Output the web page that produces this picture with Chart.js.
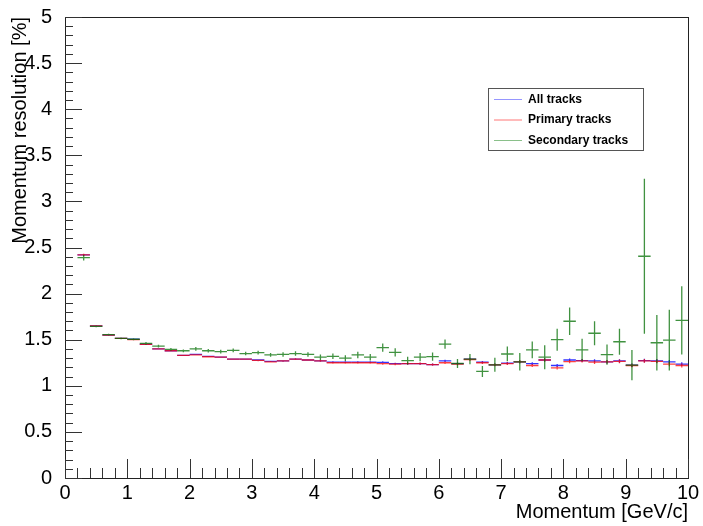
<!DOCTYPE html>
<html>
<head>
<meta charset="utf-8">
<script src="https://cdn.jsdelivr.net/npm/chart.js@4.4.1/dist/chart.umd.min.js"></script>
<style>
  html, body { margin: 0; padding: 0; background: #fff; }
  #wrap { width: 703px; height: 526px; }
</style>
</head>
<body>
<div id="wrap"><canvas id="myChart" width="703" height="526"></canvas></div>
<script>
// bin centres (GeV/c), bins are 0.2 wide
const momentum = [0.3, 0.5, 0.7, 0.9, 1.1, 1.3, 1.5, 1.7, 1.9, 2.1, 2.3, 2.5, 2.7, 2.9, 3.1, 3.3, 3.5, 3.7, 3.9,
    4.1, 4.3, 4.5, 4.7, 4.9, 5.1, 5.3, 5.5, 5.7, 5.9, 6.1, 6.3, 6.5, 6.7, 6.9, 7.1, 7.3, 7.5, 7.7, 7.9,
    8.1, 8.3, 8.5, 8.7, 8.9, 9.1, 9.3, 9.5, 9.7, 9.9];
const binHalfWidth = 0.1;

const allTracks = [2.42, 1.65, 1.55, 1.515, 1.505, 1.45, 1.40, 1.38, 1.33, 1.34, 1.32, 1.31, 1.29, 1.29, 1.28, 1.265, 1.27, 1.29, 1.28,
    1.27, 1.256, 1.256, 1.256, 1.256, 1.255, 1.24, 1.24, 1.24, 1.23, 1.27, 1.24, 1.29, 1.256, 1.228, 1.245, 1.26, 1.24, 1.28, 1.22,
    1.28, 1.274, 1.27, 1.26, 1.27, 1.224, 1.274, 1.27, 1.26, 1.235];
const allErr = [0.01, 0.005, 0.005, 0.005, 0.005, 0.005, 0.005, 0.005, 0.005, 0.006, 0.006, 0.006, 0.006, 0.007, 0.007, 0.007, 0.008, 0.008, 0.008,
    0.009, 0.009, 0.009, 0.01, 0.01, 0.01, 0.01, 0.011, 0.011, 0.011, 0.012, 0.012, 0.013, 0.013, 0.014, 0.014, 0.015, 0.015, 0.016, 0.016,
    0.017, 0.017, 0.018, 0.018, 0.019, 0.019, 0.02, 0.02, 0.021, 0.021];

const primaryTracks = [2.42, 1.65, 1.55, 1.515, 1.50, 1.45, 1.40, 1.38, 1.33, 1.335, 1.315, 1.31, 1.29, 1.29, 1.275, 1.26, 1.27, 1.29, 1.28,
    1.27, 1.25, 1.25, 1.25, 1.25, 1.24, 1.235, 1.24, 1.24, 1.23, 1.25, 1.235, 1.285, 1.25, 1.228, 1.24, 1.26, 1.22, 1.28, 1.195,
    1.263, 1.27, 1.256, 1.26, 1.265, 1.22, 1.27, 1.265, 1.235, 1.22];
const primaryErr = [0.012, 0.006, 0.005, 0.005, 0.005, 0.005, 0.005, 0.006, 0.006, 0.006, 0.006, 0.007, 0.007, 0.007, 0.008, 0.008, 0.008, 0.009, 0.009,
    0.009, 0.01, 0.01, 0.01, 0.011, 0.011, 0.011, 0.012, 0.012, 0.012, 0.013, 0.013, 0.014, 0.014, 0.015, 0.015, 0.016, 0.016, 0.017, 0.017,
    0.018, 0.018, 0.019, 0.019, 0.02, 0.02, 0.021, 0.021, 0.022, 0.022];

const secondaryTracks = [2.39, 1.645, 1.555, 1.515, 1.505, 1.46, 1.43, 1.395, 1.38, 1.40, 1.38, 1.37, 1.385, 1.35, 1.36, 1.335, 1.34, 1.35, 1.34,
    1.31, 1.32, 1.30, 1.335, 1.31, 1.413, 1.363, 1.274, 1.31, 1.317, 1.453, 1.242, 1.29, 1.156, 1.228, 1.345, 1.26, 1.39, 1.31, 1.50,
    1.70, 1.39, 1.57, 1.338, 1.478, 1.224, 2.405, 1.467, 1.495, 1.71];
const secondaryErr = [0.03, 0.01, 0.01, 0.01, 0.01, 0.015, 0.015, 0.015, 0.015, 0.02, 0.02, 0.02, 0.02, 0.02, 0.02, 0.02, 0.025, 0.025, 0.025,
    0.03, 0.03, 0.03, 0.035, 0.035, 0.045, 0.045, 0.04, 0.045, 0.045, 0.05, 0.05, 0.055, 0.06, 0.075, 0.08, 0.095, 0.09, 0.13, 0.12,
    0.15, 0.12, 0.13, 0.11, 0.14, 0.165, 0.84, 0.3, 0.33, 0.37];

const xTicks = [0, 1, 2, 3, 4, 5, 6, 7, 8, 9, 10];

function toPoints(vals, errs) {
    return momentum.map((m, i) => ({ x: m, y: vals[i], err: errs[i] }));
}

// ROOT style error bars: a horizontal bin-width bar plus a vertical error bar
const errorBars = {
    id: 'errorBars',
    afterDatasetsDraw(chart) {
        const ctx = chart.ctx;
        const xs = chart.scales.x, ys = chart.scales.y;
        const area = chart.chartArea;
        ctx.save();
        ctx.beginPath();
        ctx.rect(area.left, area.top, area.right - area.left, area.bottom - area.top);
        ctx.clip();
        chart.data.datasets.forEach(ds => {
            ctx.strokeStyle = ds.borderColor;
            ctx.lineWidth = 1.3;
            ds.data.forEach(p => {
                const px = xs.getPixelForValue(p.x);
                const py = ys.getPixelForValue(p.y);
                ctx.beginPath();
                ctx.moveTo(xs.getPixelForValue(p.x - binHalfWidth), py);
                ctx.lineTo(xs.getPixelForValue(p.x + binHalfWidth), py);
                ctx.moveTo(px, ys.getPixelForValue(p.y - p.err));
                ctx.lineTo(px, ys.getPixelForValue(p.y + p.err));
                ctx.stroke();
            });
        });
        ctx.restore();
    }
};

// frame, inner tick marks and the legend box
const frame = {
    id: 'frame',
    afterDraw(chart) {
        const ctx = chart.ctx;
        const xs = chart.scales.x, ys = chart.scales.y;
        const a = chart.chartArea;
        ctx.save();
        ctx.strokeStyle = '#222';
        ctx.lineWidth = 1;
        ctx.strokeRect(Math.round(a.left) + 0.5, Math.round(a.top) + 0.5,
            Math.round(a.right - a.left), Math.round(a.bottom - a.top));

        ctx.strokeStyle = '#333';
        ctx.beginPath();
        for (let i = 0; i <= 50; i++) {
            const v = i * 0.2;
            const px = Math.round(xs.getPixelForValue(v)) + 0.5;
            const len = (i % 5 === 0) ? 19 : 10;
            ctx.moveTo(px, a.bottom);
            ctx.lineTo(px, a.bottom - len);
        }
        for (let i = 0; i <= 50; i++) {
            const v = i * 0.1;
            const py = Math.round(ys.getPixelForValue(v)) + 0.5;
            const len = (i % 5 === 0) ? 17 : 8;
            ctx.moveTo(a.left, py);
            ctx.lineTo(a.left + len, py);
        }
        ctx.stroke();

        // legend
        const lx = 488, ly = 88, lw = 155, lh = 62;
        ctx.fillStyle = '#fff';
        ctx.fillRect(lx, ly, lw, lh);
        ctx.strokeStyle = '#555';
        ctx.strokeRect(lx + 0.5, ly + 0.5, lw, lh);
        ctx.font = 'bold 12px "Liberation Sans", Arial, sans-serif';
        ctx.textBaseline = 'middle';
        chart.data.datasets.forEach((ds, i) => {
            const y = ly + 11.5 + i * 20.5;
            ctx.strokeStyle = ds.legendColor;
            ctx.beginPath();
            ctx.moveTo(lx + 6, y);
            ctx.lineTo(lx + 34, y);
            ctx.stroke();
            ctx.fillStyle = '#000';
            ctx.fillText(ds.label, lx + 40, y);
        });
        ctx.restore();
    }
};

Chart.defaults.font.family = '"Liberation Sans", Arial, sans-serif';
Chart.defaults.color = '#000';

const ctx = document.getElementById('myChart').getContext('2d');
const chart = new Chart(ctx, {
    type: 'scatter',
    data: {
        datasets: [{
            label: 'All tracks',
            data: toPoints(allTracks, allErr),
            borderColor: 'rgba(0, 0, 255, 0.8)',
            legendColor: 'rgba(80, 80, 255, 0.6)',
            pointRadius: 0,
            showLine: false
        }, {
            label: 'Primary tracks',
            data: toPoints(primaryTracks, primaryErr),
            borderColor: 'rgba(255, 0, 0, 0.75)',
            legendColor: 'rgba(255, 60, 60, 0.7)',
            pointRadius: 0,
            showLine: false
        }, {
            label: 'Secondary tracks',
            data: toPoints(secondaryTracks, secondaryErr),
            borderColor: 'rgba(0, 110, 0, 0.75)',
            legendColor: 'rgba(60, 150, 60, 0.6)',
            pointRadius: 0,
            showLine: false
        }]
    },
    options: {
        responsive: false,
        animation: false,
        events: [],
        layout: { padding: { top: 11, right: 15, left: 0, bottom: 0 } },
        plugins: {
            legend: { display: false },
            tooltip: { enabled: false }
        },
        scales: {
            x: {
                type: 'linear',
                min: 0,
                max: 10,
                afterBuildTicks: s => { s.ticks = xTicks.map(v => ({ value: v })); },
                afterFit: s => { s.height = 48; },
                grid: { display: false },
                border: { display: false },
                ticks: { font: { size: 20 }, padding: -5, maxRotation: 0, autoSkip: false, callback: v => String(v) },
                title: {
                    display: true,
                    text: 'Momentum [GeV/c]',
                    align: 'end',
                    font: { size: 20 },
                    padding: { top: 0, bottom: 2 }
                }
            },
            y: {
                min: 0,
                max: 5,
                afterFit: s => { s.width = 65; },
                grid: { display: false },
                border: { display: false },
                ticks: { stepSize: 0.5, font: { size: 20 }, padding: 5, callback: v => String(v) },
                title: {
                    display: true,
                    text: 'Momentum resolution [%]',
                    align: 'end',
                    font: { size: 20 },
                    padding: { top: 8, bottom: 0 }
                }
            }
        }
    },
    plugins: [errorBars, frame]
});
</script>
</body>
</html>
